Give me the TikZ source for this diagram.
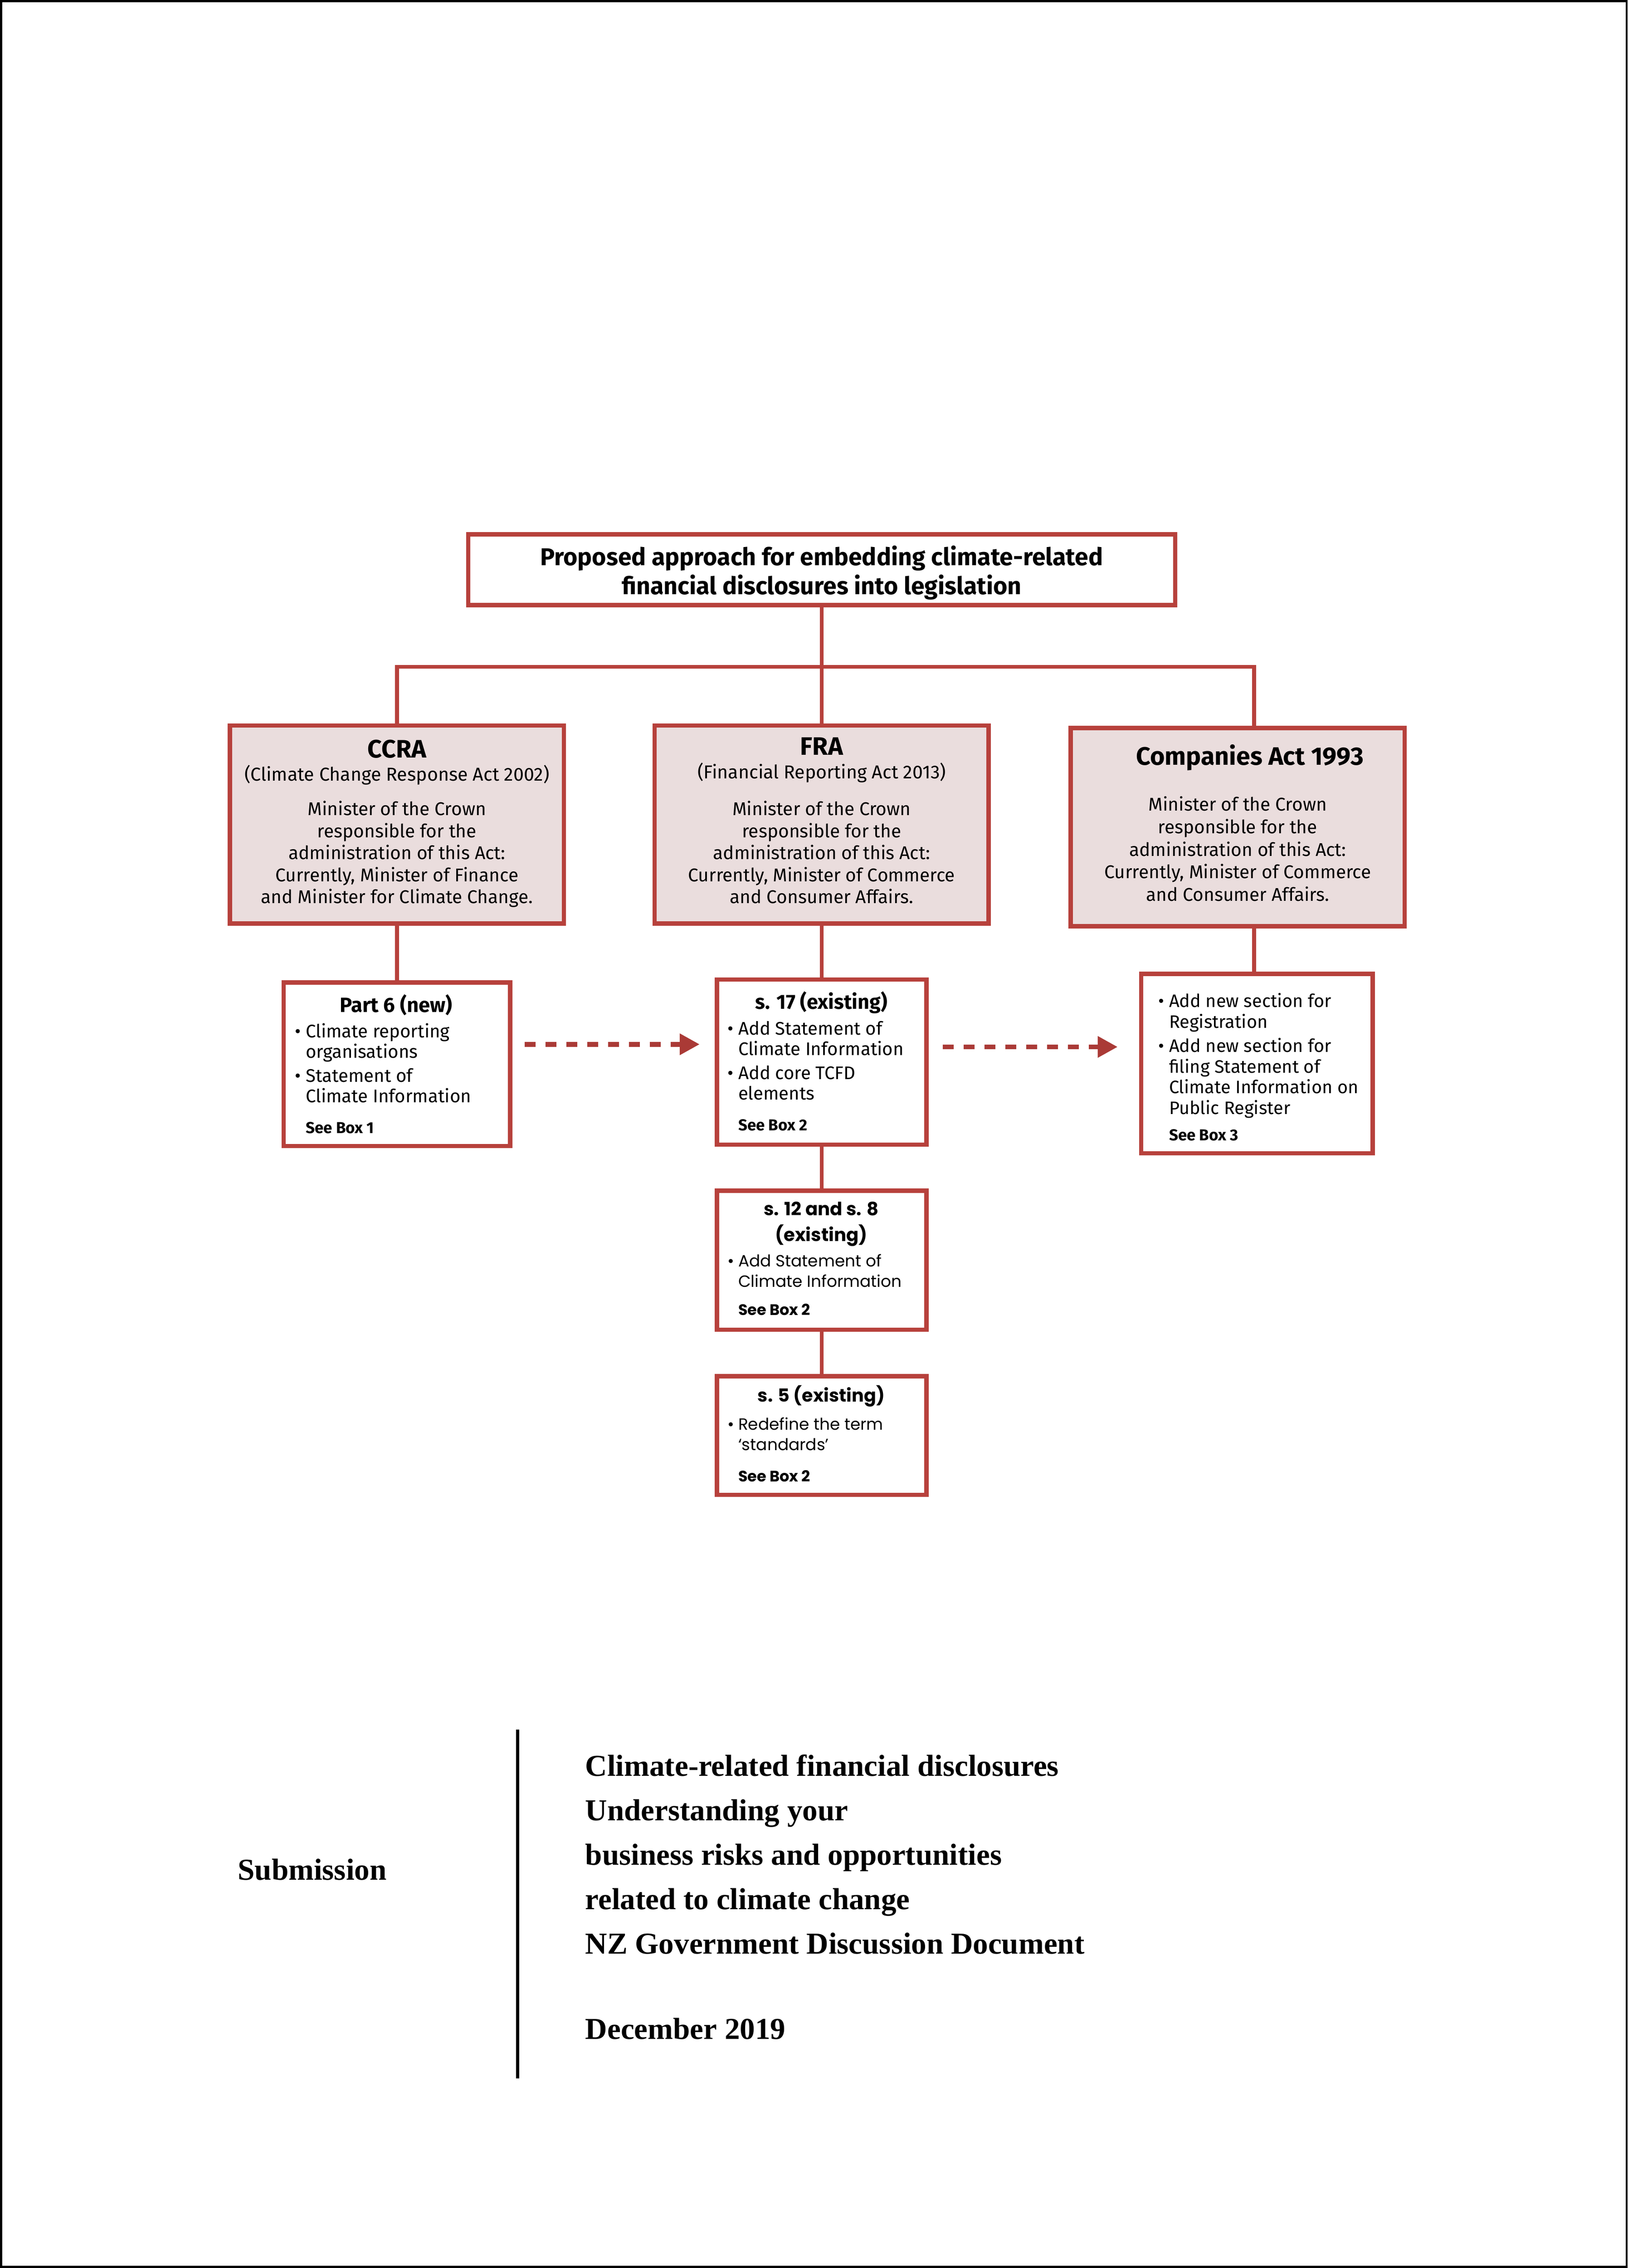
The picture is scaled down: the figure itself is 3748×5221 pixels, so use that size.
\documentclass[tikz,border=0pt]{standalone}
\usepackage{fontspec}
\setmainfont{Liberation Serif}
\newfontfamily\plex{Fira Sans}
\newfontfamily\work{Poppins}
\usetikzlibrary{arrows.meta}
\definecolor{redline}{RGB}{183,65,60}
\definecolor{pinkfill}{RGB}{234,221,221}
\definecolor{dashred}{RGB}{170,58,54}
\newlength\bulind
\setlength\bulind{25pt}
\newcommand\bitem[1]{\par\hangindent=\bulind\hangafter=1\noindent\makebox[\bulind][l]{\textbullet}#1\par}
\begin{document}
\begin{tikzpicture}[x=1pt,y=-1pt,
  redbox/.style={draw=redline, line width=10pt, inner sep=0pt, outer sep=0pt},
  actbox/.style={redbox, fill=pinkfill, minimum width=769pt, minimum height=456pt},
  link/.style={draw=redline, line width=9pt},
  dasharrow/.style={draw=dashred, line width=11pt, dash pattern=on 25pt off 23pt, -{Triangle[length=46pt,width=47pt]}},
  txt/.style={inner sep=0pt, outer sep=0pt, anchor=base},
  txtl/.style={inner sep=0pt, outer sep=0pt, anchor=base west},
]
\useasboundingbox (0,0) rectangle (3748,5221);
\fill[white] (0,0) rectangle (3748,5221);
\draw[black, line width=5pt] (2.5,2.5) rectangle (3745.5,5218.5);

% boxes
\node[redbox, fill=white, minimum width=1628pt, minimum height=163pt] (title) at (1892,1311.5) {};
\node[actbox] (ccra) at (914,1898) {};
\node[actbox] (fra) at (1892,1898) {};
\node[actbox] (comp) at (2850,1904) {};
\node[redbox, fill=white, minimum width=522pt, minimum height=376pt] (part6) at (914,2450) {};
\node[redbox, fill=white, minimum width=482pt, minimum height=380pt] (s17) at (1892,2445) {};
\node[redbox, fill=white, minimum width=533pt, minimum height=413pt] (compsub) at (2894,2448.5) {};
\node[redbox, fill=white, minimum width=482pt, minimum height=320pt] (s12) at (1892,2901) {};
\node[redbox, fill=white, minimum width=482pt, minimum height=273pt] (s5) at (1892,3304.5) {};

% connectors
\coordinate (junc) at (1892,1535);
\coordinate (compx) at (2888,0);
\draw[link] (title.south) -- (junc);
\draw[link] (ccra.north) -- (ccra.north |- junc) -- (junc -| compx) -- (comp.north -| compx);
\draw[link] (junc) -- (fra.north);
\draw[link] (ccra.south) -- (part6.north);
\draw[link] (fra.south) -- (s17.north);
\draw[link] (comp.south -| compx) -- (compsub.north -| compx);
\draw[link] (s17.south) -- (s12.north);
\draw[link] (s12.south) -- (s5.north);
\coordinate (a1) at (1208,2404);
\coordinate (a2) at (2171,2410);
\draw[dasharrow] (a1) -- ([xshift=-40pt]s17.west |- a1);
\draw[dasharrow] (a2) -- ([xshift=-54pt]compsub.west |- a2);

% texts
\node[txt] (titletxt) at (1892,1302) {\parbox[t]{1600pt}{\centering\plex\bfseries\fontsize{56}{66}\selectfont Proposed approach for embedding climate-related\\financial disclosures into legislation}};

\node[txt] (ccratxt) at (914,1744) {\parbox[t]{760pt}{\centering\plex
{\fontsize{58}{54}\bfseries CCRA\par}
{\fontsize{43}{54}\selectfont (Climate Change Response Act 2002)\par}
\vspace{28.25pt}
{\fontsize{42.5}{50.75}\selectfont Minister of the Crown\\responsible for the\\administration of this Act:\\Currently, Minister of Finance\\and Minister for Climate Change.\par}}};

\node[txt] (fratxt) at (1892,1738) {\parbox[t]{760pt}{\centering\plex
{\fontsize{58}{54}\bfseries FRA\par}
{\fontsize{43}{54}\selectfont (Financial Reporting Act 2013)\par}
\vspace{34.25pt}
{\fontsize{42.5}{50.75}\selectfont Minister of the Crown\\responsible for the\\administration of this Act:\\Currently, Minister of Commerce\\and Consumer Affairs.\par}}};

\node[txt] (comptxt) at (2850,1761) {\parbox[t]{760pt}{\centering\plex
{\fontsize{58}{56}\bfseries \hspace*{56pt}Companies Act 1993\par}
\vspace{54.25pt}
{\fontsize{42.5}{51.75}\selectfont Minister of the Crown\\responsible for the\\administration of this Act:\\Currently, Minister of Commerce\\and Consumer Affairs.\par}}};

\node[txtl] (part6txt) at (679,2330) {\parbox[t]{466pt}{\plex
{\centering\fontsize{47.5}{47}\bfseries Part 6 (new)\par}
\raggedright\fontsize{42}{47}\selectfont
\vspace{12pt}
\bitem{Climate reporting\newline organisations}
\vspace{8pt}
\bitem{Statement of\newline Climate Information}
\vspace{24pt}
\hspace*{\bulind}{\fontsize{36.5}{47}\bfseries See Box 1}\par}};

\node[txtl] (s17txt) at (1675,2322.5) {\parbox[t]{432pt}{\plex
{\centering\fontsize{47}{47}\bfseries s. 17 (existing)\par}
\raggedright\fontsize{42}{47}\selectfont
\vspace{12.5pt}
\bitem{Add Statement of\newline Climate Information}
\vspace{9pt}
\bitem{Add core TCFD\newline elements}
\vspace{24pt}
\hspace*{\bulind}{\fontsize{36.5}{47}\bfseries See Box 2}\par}};

\node[txtl] (compsubtxt) at (2667,2319) {\parbox[t]{480pt}{\plex
\raggedright\fontsize{41.5}{47.5}\selectfont
\bitem{Add new section for\newline Registration}
\vspace{8.5pt}
\bitem{Add new section for\newline filing Statement of\newline Climate Information on\newline Public Register}
\vspace{13.5pt}
\hspace*{\bulind}{\fontsize{36.5}{47}\bfseries See Box 3}\par}};

\node[txtl] (s12txt) at (1675,2797.5) {\parbox[t]{432pt}{\work
{\centering\fontsize{42}{60}\bfseries s. 12 and s. 8\\(existing)\par}
\raggedright\fontsize{37.5}{47}\selectfont
\vspace{11.5pt}
\bitem{Add Statement of\newline Climate Information}
\vspace{18pt}
\hspace*{\bulind}{\fontsize{35}{47}\bfseries See Box 2}\par}};

\node[txtl] (s5txt) at (1675,3227.5) {\parbox[t]{432pt}{\work
{\centering\fontsize{41.5}{60}\bfseries s. 5 (existing)\par}
\raggedright\fontsize{37.5}{47}\selectfont
\vspace{17.5pt}
\bitem{Redefine the term\newline ‘standards’}
\vspace{25pt}
\hspace*{\bulind}{\fontsize{35}{47}\bfseries See Box 2}\par}};

% bottom
\coordinate (sepTop) at (1192,3981);
\coordinate (sepBot) at (1192,4784);
\draw[black, line width=8pt] (sepTop) -- (sepBot);
\node[txt] (subm) at (719,4328) {\fontsize{70}{80}\bfseries Submission};
\node[txtl] (doc) at (1348,4088) {\parbox[t]{2200pt}{\raggedright\fontsize{70}{102.5}\bfseries
Climate-related financial disclosures\\Understanding your\\business risks and opportunities\\related to climate change\\NZ Government Discussion Document\par
\vspace{93.5pt}
December 2019}};
\end{tikzpicture}
\end{document}
